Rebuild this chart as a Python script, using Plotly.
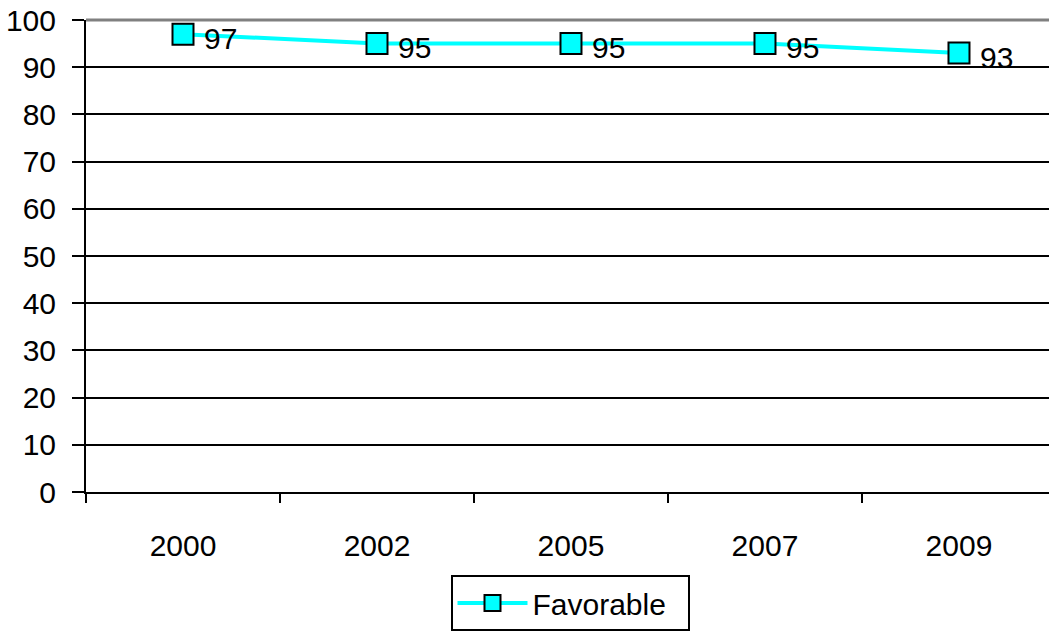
import plotly.graph_objects as go

years = ["2000", "2002", "2005", "2007", "2009"]
favorable = [97, 95, 95, 95, 93]
y_ticks = [0, 10, 20, 30, 40, 50, 60, 70, 80, 90, 100]
series_name = "Favorable"

FONT = "Liberation Sans, Arial, sans-serif"
FS = 30

fig = go.Figure()
fig.add_trace(go.Scatter(
    x=years, y=favorable, name=series_name, mode="lines+markers",
    line=dict(color="#00FFFF", width=4),
    marker=dict(symbol="square", size=21, color="#00FFFF",
                line=dict(color="#000000", width=2)),
    hoverinfo="x+y",
))

for i, yv in enumerate(favorable):
    fig.add_annotation(x=i, y=yv, xref="x", yref="y", text=str(yv),
                       showarrow=False, xanchor="left", yanchor="middle",
                       xshift=19, yshift=-4,
                       font=dict(family=FONT, size=FS, color="#000000"))

fig.add_shape(type="line", xref="paper", yref="paper", x0=0, x1=1, y0=1, y1=1,
              line=dict(color="#808080", width=3), layer="above")

fig.update_layout(
    width=1049, height=631,
    margin=dict(l=86, r=0, t=20, b=129),
    paper_bgcolor="white", plot_bgcolor="white",
    font=dict(family=FONT, size=FS, color="#000000"),
    showlegend=True,
    legend=dict(x=0.5026, y=-0.176, xanchor="center", yanchor="top",
                orientation="h", bgcolor="white", bordercolor="#000000",
                borderwidth=2, font=dict(family=FONT, size=FS, color="#000000"),
                itemwidth=70, entrywidth=150, entrywidthmode="pixels"),
    xaxis=dict(type="category", range=[-0.5, 4.464], showgrid=False,
               showline=True, linecolor="#000000", linewidth=2,
               ticks="outside", tickson="boundaries", ticklen=9,
               tickwidth=2, tickcolor="#000000", ticklabelstandoff=26,
               tickfont=dict(family=FONT, size=FS), zeroline=False,
               automargin=False),
    yaxis=dict(range=[0, 100], tickvals=y_ticks, showgrid=True,
               gridcolor="#000000", gridwidth=2, showline=True,
               linecolor="#000000", linewidth=2, ticks="outside",
               ticklen=12, tickwidth=2, tickcolor="#000000",
               ticklabelstandoff=10, tickfont=dict(family=FONT, size=FS),
               zeroline=False, automargin=False),
)

fig.write_html("out.html", config={"displayModeBar": False},
               post_script="document.body.style.margin='0';document.body.style.overflow='hidden';")
